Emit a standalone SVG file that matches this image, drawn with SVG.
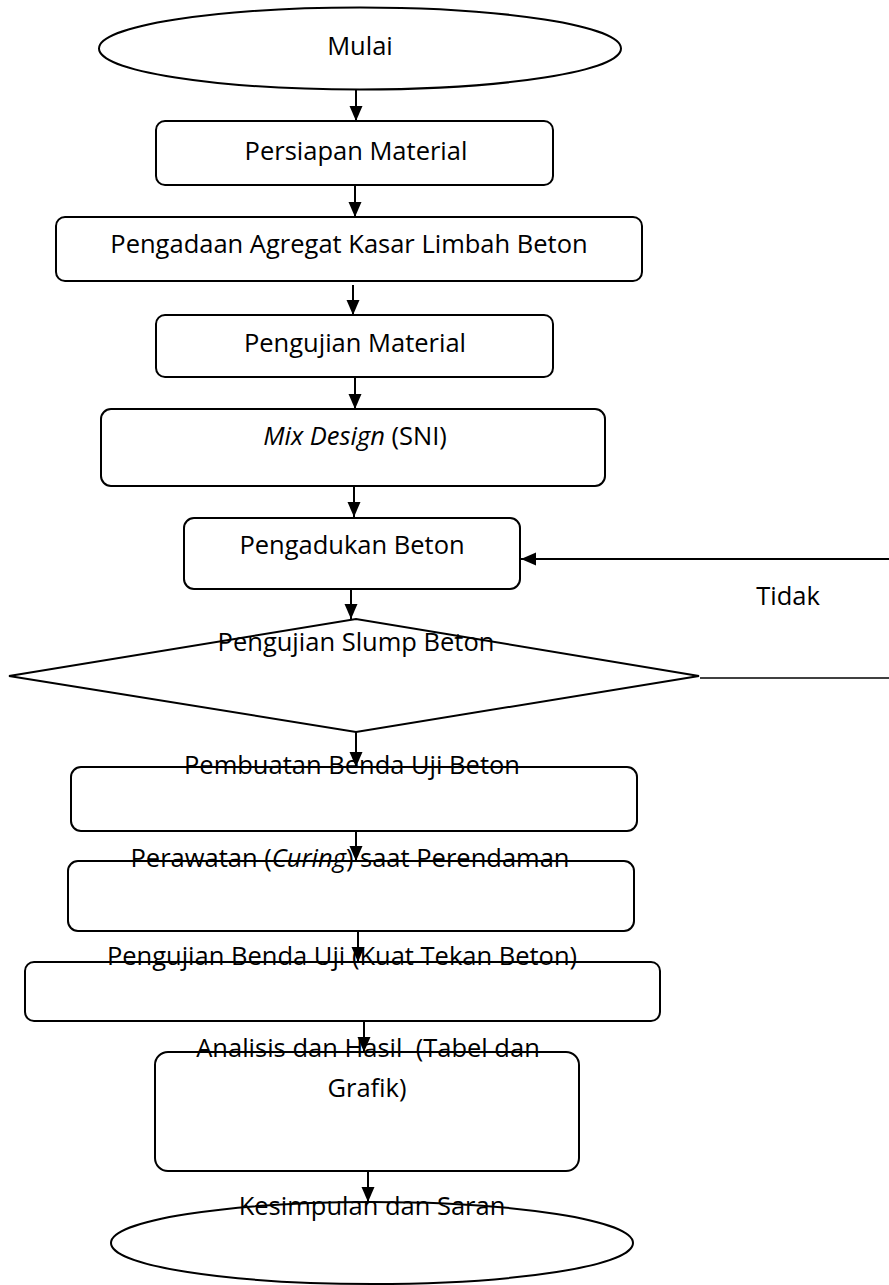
<svg xmlns="http://www.w3.org/2000/svg" width="889" height="1285" viewBox="0 0 889 1285">
<style>
.n{fill:#fff;stroke:#000;stroke-width:2}
.t{font-family:"Open Sans","Liberation Sans",sans-serif;font-size:25.5px;fill:#000;text-anchor:middle}
.c{stroke:#000;stroke-width:2;fill:none}
</style>
<defs>
<marker id="ah" markerUnits="userSpaceOnUse" markerWidth="16" markerHeight="16" viewBox="0 0 16 16" refX="15" refY="8" orient="auto">
<path d="M0,1.5 L15,8 L0,14.5 Z" fill="#000"/>
</marker>
</defs>
<rect width="889" height="1285" fill="#fff"/>
<g id="mulai"><ellipse class="n" cx="360" cy="48.5" rx="261" ry="41"/><text class="t" x="360" y="55">Mulai</text></g>
<g id="persiapan"><rect class="n" x="156" y="121" width="397" height="64" rx="9"/><text class="t" x="356" y="160">Persiapan Material</text></g>
<g id="pengadaan"><rect class="n" x="56" y="217" width="586" height="64" rx="9"/><text class="t" x="349" y="253">Pengadaan Agregat Kasar Limbah Beton</text></g>
<g id="pengujian-material"><rect class="n" x="156" y="315" width="397" height="62" rx="9"/><text class="t" x="355" y="352">Pengujian Material</text></g>
<g id="mix-design"><rect class="n" x="101" y="409" width="504" height="77" rx="10"/><text class="t" x="355" y="445"><tspan font-style="italic">Mix Design</tspan> (SNI)</text></g>
<g id="pengadukan"><rect class="n" x="184" y="518" width="336" height="71" rx="10"/><text class="t" x="352" y="554">Pengadukan Beton</text></g>
<g id="slump"><polygon class="n" points="9,676 356,619 699,676 356,732"/><text class="t" x="356" y="651">Pengujian Slump Beton</text></g>
<g id="pembuatan"><rect class="n" x="71" y="767" width="566" height="64" rx="10"/><text class="t" x="352" y="774">Pembuatan Benda Uji Beton</text></g>
<g id="perawatan"><rect class="n" x="68" y="861" width="566" height="70" rx="10"/><text class="t" x="350" y="867">Perawatan (<tspan font-style="italic">Curing</tspan>) saat Perendaman</text></g>
<g id="pengujian-benda"><rect class="n" x="25" y="962" width="635" height="59" rx="9"/><text class="t" x="342" y="965">Pengujian Benda Uji (Kuat Tekan Beton)</text></g>
<g id="analisis"><rect class="n" x="155" y="1052" width="424" height="119" rx="13"/><text class="t" x="368" y="1057">Analisis dan Hasil&#160; (Tabel dan</text><text class="t" x="367" y="1097">Grafik)</text></g>
<g id="kesimpulan"><ellipse class="n" cx="372" cy="1243" rx="261" ry="41"/><text class="t" x="372" y="1215">Kesimpulan dan Saran</text></g>
<g id="connectors">
<line class="c" x1="356" y1="90" x2="356" y2="121" marker-end="url(#ah)"/>
<line class="c" x1="355" y1="185" x2="355" y2="217" marker-end="url(#ah)"/>
<line class="c" x1="353" y1="285" x2="353" y2="315" marker-end="url(#ah)"/>
<line class="c" x1="355" y1="377" x2="355" y2="409" marker-end="url(#ah)"/>
<line class="c" x1="354" y1="486" x2="354" y2="517" marker-end="url(#ah)"/>
<line class="c" x1="351" y1="589" x2="351" y2="619" marker-end="url(#ah)"/>
<line class="c" x1="356" y1="732" x2="356" y2="767" marker-end="url(#ah)"/>
<line class="c" x1="356" y1="831" x2="356" y2="861" marker-end="url(#ah)"/>
<line class="c" x1="358" y1="931" x2="358" y2="962" marker-end="url(#ah)"/>
<line class="c" x1="364" y1="1021" x2="364" y2="1052" marker-end="url(#ah)"/>
<line class="c" x1="368" y1="1171" x2="368" y2="1202" marker-end="url(#ah)"/>
<line class="c" x1="700" y1="678" x2="889" y2="678" style="stroke-width:1.5"/>
<line class="c" x1="889" y1="559" x2="521" y2="559" marker-end="url(#ah)"/>
</g>
<text class="t" x="788" y="605">Tidak</text>
</svg>
